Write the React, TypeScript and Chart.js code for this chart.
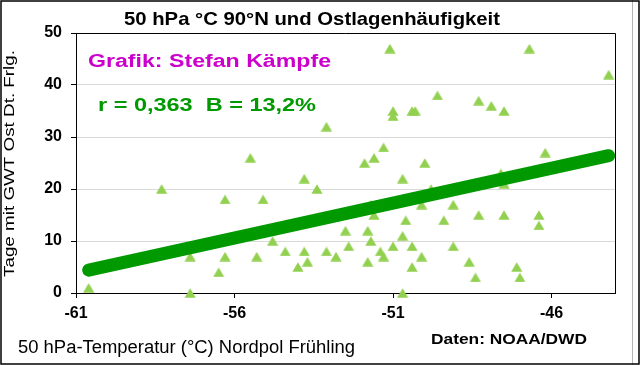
import { useEffect, useRef } from 'react';
import { Chart, registerables } from 'chart.js';

Chart.register(...registerables);

// ---- data ----
const tempX = [
  -60.6, -58.3, -57.4, -57.4, -56.5, -56.3, -56.3, -55.5, -55.3, -55.1,
  -54.8, -54.4, -54.0, -53.8, -53.8, -53.7, -53.4, -53.1, -53.1, -52.8,
  -52.5, -52.4, -51.9, -51.8, -51.8, -51.7, -51.7, -51.6, -51.6, -51.4,
  -51.3, -51.3, -51.1, -51.0, -51.0, -51.0, -50.7, -50.7, -50.7, -50.6,
  -50.4, -50.4, -50.4, -50.3, -50.1, -50.1, -50.0, -49.8, -49.6, -49.4,
  -49.1, -49.1, -48.6, -48.4, -48.3, -48.3, -47.9, -47.6, -47.5, -47.5,
  -47.5, -47.1, -47.0, -46.7, -46.4, -46.4, -46.2, -44.2,
];
const eastDays = [
  1, 20, 0, 7, 4, 7, 18, 26, 7, 18,
  10, 8, 5, 22, 8, 6, 20, 32, 8, 7,
  12, 9, 25, 12, 6, 10, 17, 26, 15, 8,
  7, 28, 47, 9, 35, 34, 22, 11, 0, 14,
  35, 9, 5, 35, 17, 7, 25, 20, 38, 14,
  17, 9, 6, 3, 37, 15, 36, 23, 21, 15,
  35, 5, 3, 47, 15, 13, 27, 42,
];
const trendX = [-60.6, -44.2];
const trendY = [4.4, 26.4];
const xTickValues = [-61, -56, -51, -46];
const yTickValues = [0, 10, 20, 30, 40, 50];

const titleText = '50 hPa °C 90°N und Ostlagenhäufigkeit';
const yTitleText = 'Tage mit GWT Ost Dt. Frlg.';
const xTitleText = '50 hPa-Temperatur (°C) Nordpol Frühling';
const sourceText = 'Daten: NOAA/DWD';
const authorText = 'Grafik: Stefan Kämpfe';
const statsText = 'r = 0,363  B = 13,2%';

const FONT = '"Liberation Sans", Arial, Helvetica, sans-serif';

function fitText(
  ctx: CanvasRenderingContext2D,
  text: string,
  x: number,
  y: number,
  size: number,
  weight: string,
  color: string,
  width: number,
  rotate = false,
) {
  ctx.save();
  ctx.font = `${weight} ${size}px ${FONT}`;
  const w = ctx.measureText(text).width;
  const sx = width / w;
  ctx.translate(x, y);
  if (rotate) ctx.rotate(-Math.PI / 2);
  ctx.scale(sx, 1);
  ctx.fillStyle = color;
  ctx.textAlign = 'left';
  ctx.textBaseline = 'alphabetic';
  ctx.fillText(text, 0, 0);
  ctx.restore();
}

function makeTriangle(): HTMLCanvasElement {
  const c = document.createElement('canvas');
  c.width = 12;
  c.height = 10;
  const g = c.getContext('2d')!;
  g.fillStyle = '#92D050';
  g.beginPath();
  g.moveTo(6, 0.3);
  g.lineTo(11.6, 9.7);
  g.lineTo(0.4, 9.7);
  g.closePath();
  g.fill();
  return c;
}

const decorPlugin = {
  id: 'decor',
  beforeDraw(chart: any) {
    const ctx = chart.ctx as CanvasRenderingContext2D;
    ctx.save();
    ctx.fillStyle = '#ffffff';
    ctx.fillRect(0, 0, chart.width, chart.height);
    ctx.restore();
  },
  afterDraw(chart: any) {
    const ctx = chart.ctx as CanvasRenderingContext2D;
    const a = chart.chartArea;
    ctx.save();
    // plot area top/right border
    ctx.strokeStyle = '#000';
    ctx.lineWidth = 1;
    ctx.beginPath();
    ctx.moveTo(a.left, Math.round(a.top) + 0.5);
    ctx.lineTo(Math.round(a.right) + 0.5, Math.round(a.top) + 0.5);
    ctx.lineTo(Math.round(a.right) + 0.5, a.bottom);
    ctx.stroke();
    // outer frame
    ctx.strokeStyle = '#b4b4b4';
    ctx.beginPath();
    ctx.moveTo(632.5, 0);
    ctx.lineTo(632.5, 365);
    ctx.stroke();
    ctx.strokeStyle = '#000';
    ctx.lineWidth = 1.5;
    ctx.strokeRect(1, 1, 638, 363);
    ctx.restore();

    fitText(ctx, titleText, 124, 25, 19, 'bold', '#000', 376);
    fitText(ctx, authorText, 88, 66.5, 17.5, 'bold', '#CC00CC', 243);
    fitText(ctx, statsText, 98, 110.7, 18.5, 'bold', '#009900', 218);
    fitText(ctx, yTitleText, 13.5, 277, 14, 'normal', '#000', 227, true);
    fitText(ctx, xTitleText, 18, 352.5, 18, 'normal', '#000', 337);
    fitText(ctx, sourceText, 431, 344, 14, 'bold', '#000', 156);
  },
};

export default function App() {
  const canvasRef = useRef<HTMLCanvasElement | null>(null);

  useEffect(() => {
    const canvas = canvasRef.current;
    if (!canvas) return;
    const triangle = makeTriangle();
    const tickFont = { family: FONT, size: 16, weight: 'bold' as const };

    const chart = new Chart(canvas, {
      type: 'scatter',
      data: {
        datasets: [
          {
            type: 'line',
            label: 'Trend',
            data: trendX.map((x, i) => ({ x, y: trendY[i] })),
            borderColor: '#009900',
            borderWidth: 13,
            borderCapStyle: 'round',
            pointRadius: 0,
            fill: false,
            tension: 0,
            clip: false,
            order: 0,
          } as any,
          {
            type: 'scatter',
            label: 'Ostlagen',
            data: tempX.map((x, i) => ({ x, y: eastDays[i] })),
            pointStyle: triangle,
            pointRadius: 6,
            clip: false,
            order: 1,
          } as any,
        ],
      },
      options: {
        animation: false,
        responsive: false,
        devicePixelRatio: 1,
        events: [],
        layout: { padding: { left: 0, right: 25, top: 33, bottom: 0 } },
        plugins: {
          legend: { display: false },
          tooltip: { enabled: false },
          title: { display: false },
        },
        scales: {
          x: {
            type: 'linear',
            min: -61,
            max: -44,
            afterBuildTicks: (s: any) => {
              s.ticks = xTickValues.map((v) => ({ value: v }));
            },
            afterFit: (s: any) => {
              s.height = 72;
            },
            grid: {
              display: true,
              drawOnChartArea: false,
              drawTicks: true,
              tickLength: 5,
              tickColor: '#000',
            },
            border: { display: true, color: '#000', width: 1 },
            ticks: {
              color: '#000',
              font: tickFont,
              padding: 6,
              maxRotation: 0,
              autoSkip: false,
              callback: (v: any) => `${v}`,
            },
          },
          y: {
            type: 'linear',
            min: 0,
            max: 50,
            afterBuildTicks: (s: any) => {
              s.ticks = yTickValues.map((v) => ({ value: v }));
            },
            afterFit: (s: any) => {
              s.width = 76;
            },
            grid: {
              color: '#d9d9d9',
              tickColor: '#000',
              tickLength: 5,
              lineWidth: 1,
            },
            border: { display: true, color: '#000', width: 1 },
            ticks: {
              color: '#000',
              font: tickFont,
              padding: 9,
              callback: (v: any) => `${v}`,
            },
          },
        },
      },
      plugins: [decorPlugin],
    } as any);

    return () => chart.destroy();
  }, []);

  return (
    <div style={{ position: 'fixed', left: 0, top: 0, width: 640, height: 365, background: '#fff' }}>
      <canvas ref={canvasRef} width={640} height={365} style={{ display: 'block', width: 640, height: 365 }} />
    </div>
  );
}
